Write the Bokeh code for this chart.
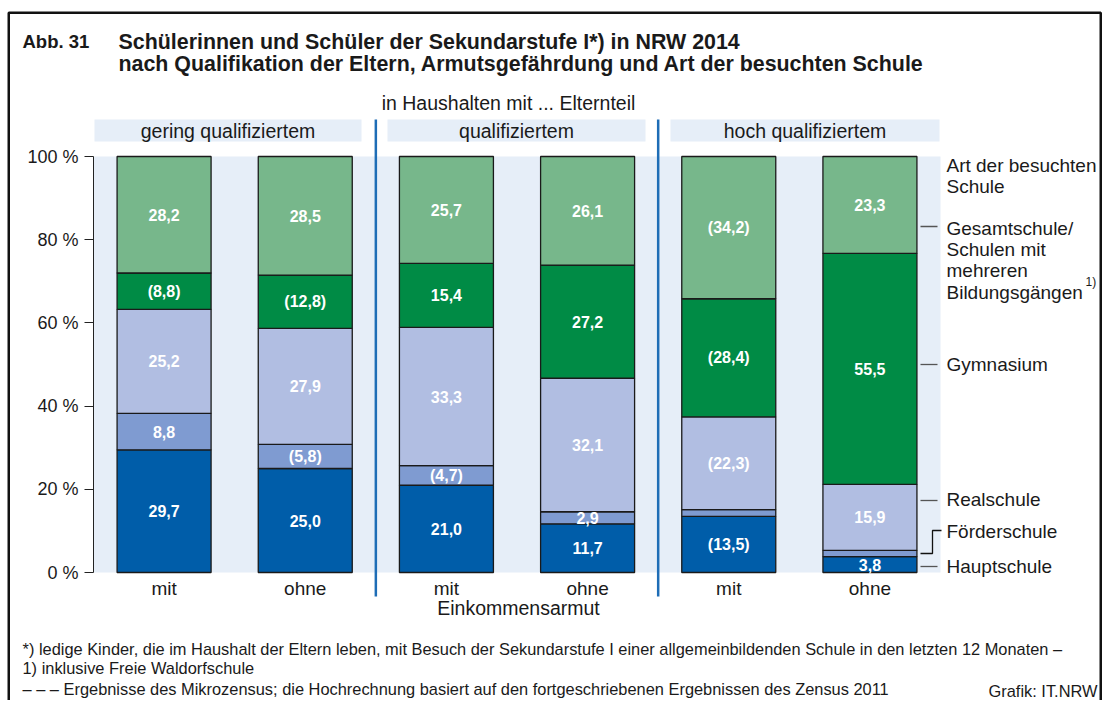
import numpy as np
from bokeh.plotting import figure
from bokeh.models import ColumnDataSource, FixedTicker, Range1d
from bokeh.core.properties import value
from bokeh.embed import file_html
from bokeh.resources import INLINE

# ---------------- data ----------------
groups = ["gering qualifiziertem", "qualifiziertem", "hoch qualifiziertem"]
armut = ["mit", "ohne", "mit", "ohne", "mit", "ohne"]
bar_pos = [1, 2, 3, 4, 5, 6]

schools = ["Hauptschule", "Förderschule", "Realschule", "Gymnasium", "Gesamtschule"]
haupt = [29.7, 25.0, 21.0, 11.7, 13.5, 3.8]
foerder = [8.8, 5.8, 4.7, 2.9, 1.6, 1.5]
real = [25.2, 27.9, 33.3, 32.1, 22.3, 15.9]
gym = [8.8, 12.8, 15.4, 27.2, 28.4, 55.5]
gesamt = [28.2, 28.5, 25.7, 26.1, 34.2, 23.3]

# label style: "" plain, "()" in brackets, "-" no label
haupt_mark = ["", "", "", "", "()", ""]
foerder_mark = ["", "()", "()", "", "-", "-"]
real_mark = ["", "", "", "", "()", ""]
gym_mark = ["()", "()", "", "", "()", ""]
gesamt_mark = ["", "", "", "", "()", ""]

y_ticks = [0, 20, 40, 60, 80, 100]
y_tick_labels = ["0 %", "20 %", "40 %", "60 %", "80 %", "100 %"]

colors = ["#005DA9", "#7F9BD1", "#B1BEE2", "#008B45", "#77B78B"]

title_1 = "Schülerinnen und Schüler der Sekundarstufe I*) in NRW 2014"
title_2 = "nach Qualifikation der Eltern, Armutsgefährdung und Art der besuchten Schule"
notes = ["*) ledige Kinder, die im Haushalt der Eltern leben, mit Besuch der Sekundarstufe I einer "
         "allgemeinbildenden Schule in den letzten 12 Monaten –",
         "1) inklusive Freie Waldorfschule",
         "– – – Ergebnisse des Mikrozensus; die Hochrechnung basiert auf den fortgeschriebenen "
         "Ergebnissen des Zensus 2011"]

legend_text = ["Art der besuchten", "Schule", "Gesamtschule/", "Schulen mit", "mehreren",
               "Bildungsgängen", "Gymnasium", "Realschule", "Förderschule", "Hauptschule"]

# ---------------- geometry (page pixels) ----------------
W, H = 1105, 700
PX_X = 141.17
PX_Y = 4.16
FRAME_LEFT_PAGE = 93
AXIS_Y_PAGE = 572

FONT = "Liberation Sans"
TXT = "#1a1a1a"
BORDER = "#111111"
BLUE_LINE = "#1E6DB6"
PANEL = "#E6EEF8"
BX_L, BX_R, BY_T, BW = 8.25, 1100.25, 12.25, 2.5


def X(px):
    return 0.5 + (px - FRAME_LEFT_PAGE) / PX_X


def Y(py):
    return (AXIS_Y_PAGE - py) / PX_Y


p = figure(width=W, height=H, output_backend="svg", toolbar_location=None,
           x_range=Range1d(X(0), X(W)), y_range=Range1d(Y(H), Y(0)), min_border=0)
p.outline_line_color = None
p.grid.visible = False


def txt(xs, ys, texts, size, style="normal", align="left", color=TXT):
    p.text(x=[X(v) for v in xs], y=[Y(v) for v in ys], text=texts, text_font=value(FONT),
           text_font_size=size, text_font_style=style, text_color=color,
           text_align=align, text_baseline="middle")


vals = np.array([haupt, foerder, real, gym, gesamt], dtype=float)
shares = vals / vals.sum(axis=0) * 100
keys = ["haupt", "foerder", "real", "gym", "gesamt"]
src = ColumnDataSource(dict(x=bar_pos, **{k: shares[i] for i, k in enumerate(keys)}))

# outer frame (no bottom edge, as in the source)
p.line(x=[X(BX_L), X(BX_L), X(BX_R), X(BX_R)], y=[Y(H + 10), Y(BY_T), Y(BY_T), Y(H + 10)],
       line_color=BORDER, line_width=BW)

# background panel
p.quad(left=[0.5], right=[6.5], bottom=[0], top=[100], fill_color=PANEL, line_color=None)

# header boxes
hdr_left = [X(94), X(387), X(670)]
hdr_right = [X(361), X(645), X(939)]
p.quad(left=hdr_left, right=hdr_right, bottom=[Y(141)] * 3, top=[Y(119)] * 3,
       fill_color=PANEL, line_color=None)
p.text(x=[(a + b) / 2 for a, b in zip(hdr_left, hdr_right)], y=[Y(130)] * 3, text=groups,
       text_font=value(FONT), text_font_size="19.5px", text_color=TXT,
       text_align="center", text_baseline="middle")
txt([508], [102], ["in Haushalten mit ... Elternteil"], "19.5px", align="center")

# group separators
p.segment(x0=[2.5, 4.5], x1=[2.5, 4.5], y0=[Y(596)] * 2, y1=[Y(119)] * 2,
          line_color=BLUE_LINE, line_width=2.5)

# stacked bars
p.vbar_stack(keys, x="x", width=94 / PX_X, color=colors, source=src,
             line_color="#1a1a1a", line_width=1.3)

# segment labels
marks = [haupt_mark, foerder_mark, real_mark, gym_mark, gesamt_mark]
cum = np.cumsum(shares, axis=0)
lx, ly, lt = [], [], []
for i in range(len(keys)):
    for j in range(len(bar_pos)):
        m = marks[i][j]
        if m == "-":
            continue
        s = f"{vals[i, j]:.1f}".replace(".", ",")
        if m == "()":
            s = f"({s})"
        lx.append(bar_pos[j])
        ly.append(cum[i, j] - shares[i, j] / 2)
        lt.append(s)
p.text(x=lx, y=ly, text=lt, text_font=value(FONT), text_font_style="bold",
       text_font_size="16px", text_color="white", text_align="center", text_baseline="middle")

# axes, fixed inside the full-canvas frame
p.yaxis.fixed_location = 0.5
p.yaxis.ticker = FixedTicker(ticks=y_ticks)
p.yaxis.major_label_overrides = dict(zip(y_ticks, y_tick_labels))
p.yaxis.bounds = (0, 100)
p.yaxis.major_tick_out = 9
p.yaxis.major_tick_in = 0
p.yaxis.minor_tick_line_color = None
p.yaxis.axis_line_color = "#222222"
p.yaxis.major_tick_line_color = "#222222"
p.yaxis.major_label_standoff = 6
p.yaxis.major_label_text_font = FONT
p.yaxis.major_label_text_font_size = "18px"
p.yaxis.major_label_text_color = TXT

p.xaxis.fixed_location = 0
p.xaxis.ticker = FixedTicker(ticks=bar_pos)
p.xaxis.major_label_overrides = dict(zip(bar_pos, armut))
p.xaxis.axis_line_color = None
p.xaxis.major_tick_line_color = None
p.xaxis.minor_tick_line_color = None
p.xaxis.major_tick_out = 0
p.xaxis.major_tick_in = 0
p.xaxis.major_label_standoff = 5
p.xaxis.major_label_text_font = FONT
p.xaxis.major_label_text_font_size = "19px"
p.xaxis.major_label_text_color = TXT
txt([518], [607], ["Einkommensarmut"], "19.5px", align="center")

# legend leader lines and texts
lead_y = [Y(566), Y(500), Y(364), Y(226)]
p.segment(x0=[X(920)] * 4, x1=[X(937)] * 4, y0=lead_y, y1=lead_y, line_color="#555555", line_width=1.3)
p.line(x=[X(920), X(932), X(932), X(941)], y=[Y(553), Y(553), Y(530), Y(530)],
       line_color="#111111", line_width=1.3)
legend_py = [165, 186, 228, 249, 270, 292, 364, 499, 531, 566]
txt([946] * len(legend_text), legend_py, legend_text, "19px")
txt([1085], [281], ["1)"], "12px")

# title
txt([22], [41], ["Abb. 31"], "18.5px", style="bold")
txt([118, 118], [41, 63], [title_1, title_2], "21.4px", style="bold")

# footnotes
txt([22, 22, 22], [648, 667, 688], notes, "16.4px")
txt([1097], [690], ["Grafik: IT.NRW"], "16.4px", align="right")

open("out.html", "w").write(file_html(p, INLINE))
